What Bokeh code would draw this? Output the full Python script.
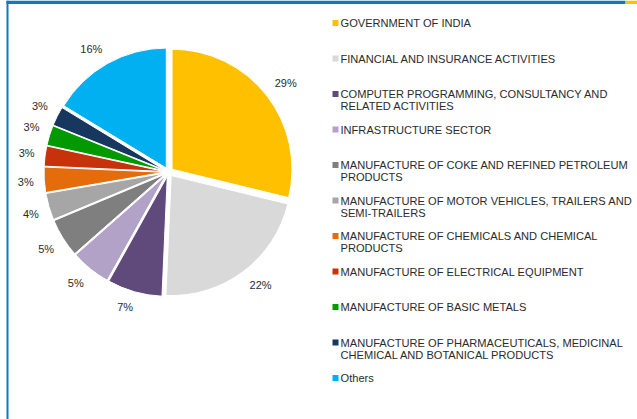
import math
from bokeh.plotting import figure
from bokeh.models import Range1d
from bokeh.core.properties import value
from bokeh.embed import file_html
from bokeh.resources import INLINE

# ---- data ----
categories = [
    "GOVERNMENT OF INDIA",
    "FINANCIAL AND INSURANCE ACTIVITIES",
    "COMPUTER PROGRAMMING, CONSULTANCY AND\nRELATED ACTIVITIES",
    "INFRASTRUCTURE SECTOR",
    "MANUFACTURE OF COKE AND REFINED PETROLEUM\nPRODUCTS",
    "MANUFACTURE OF MOTOR VEHICLES, TRAILERS AND\nSEMI-TRAILERS",
    "MANUFACTURE OF CHEMICALS AND CHEMICAL\nPRODUCTS",
    "MANUFACTURE OF ELECTRICAL EQUIPMENT",
    "MANUFACTURE OF BASIC METALS",
    "MANUFACTURE OF PHARMACEUTICALS, MEDICINAL\nCHEMICAL AND BOTANICAL PRODUCTS",
    "Others",
]
shares = [28.8, 21.9, 7.4, 5.4, 5.2, 3.6, 3.4, 2.7, 2.7, 2.6, 16.3]
colors = ["#FFC000", "#D9D9D9", "#604A7B", "#B3A2C7", "#7F7F7F", "#A6A6A6",
          "#E46C0A", "#C8320A", "#009A00", "#17375E", "#00B0F0"]

W, H = 637, 419
FONT = value("Liberation Sans")
FS_LEG = 11.1
FS_LAB = 11.0
TXT = "#2B2B2B"

p = figure(width=W, height=H, output_backend="svg", toolbar_location=None,
           x_range=Range1d(0, W), y_range=Range1d(0, H), min_border=0)
p.axis.visible = False
p.grid.visible = False
p.outline_line_color = None
p.background_fill_color = "white"
p.border_fill_color = "white"

def Y(py):
    return H - py

# ---- frame decorations ----
p.quad(left=[6], right=[625], top=[Y(0)], bottom=[Y(3.5)], fill_color="#0A7BC1", line_color=None)
p.quad(left=[625], right=[637], top=[Y(0)], bottom=[Y(3.5)], fill_color="#FFC000", line_color=None)
p.quad(left=[6], right=[8], top=[Y(0)], bottom=[Y(H)], fill_color="#0A7BC1", line_color=None)

# ---- pie ----
cx, cy = 168, 171.5
R = 120
LR = 135
explode = 4.5
total = float(sum(shares))
cum = 0.0
xs, ys, starts, ends, lx, ly, labels = [], [], [], [], [], [], []

def clip(v):
    return max(-1.0, min(1.0, v))

for s in shares:
    a0 = cum / total * 2 * math.pi
    a1 = (cum + s) / total * 2 * math.pi
    mid = (a0 + a1) / 2
    sn, cs = math.sin(mid), math.cos(mid)
    xs.append(cx + explode * sn)
    ys.append(Y(cy) + explode * cs)
    starts.append(math.pi / 2 - a0)
    ends.append(math.pi / 2 - a1)
    lab = f"{round(s / total * 100)}%"
    half_w = (0.556 * (len(lab) - 1) + 0.889) * FS_LAB / 2
    half_h = FS_LAB / 2
    lx.append(cx + LR * sn + half_w * clip(3 * sn))
    ly.append(Y(cy) + LR * cs + half_h * clip(3 * cs))
    labels.append(lab)
    cum += s

p.wedge(x=xs, y=ys, radius=R, start_angle=starts, end_angle=ends,
        direction="clock", fill_color=colors, line_color="white", line_width=1)
p.text(x=lx, y=ly, text=labels, text_font=FONT, text_font_size=f"{FS_LAB}px",
       text_color=TXT, text_align="center", text_baseline="middle")

# ---- legend ----
leg_x, leg_y0, leg_step, line_h = 332, 22.5, 35.5, 12
mx, my, tx, ty, tt = [], [], [], [], []
for i, cat in enumerate(categories):
    yc = leg_y0 + i * leg_step
    mx.append(leg_x + 3)
    my.append(Y(yc))
    for j, line in enumerate(cat.split("\n")):
        tx.append(leg_x + 8)
        ty.append(Y(yc + j * line_h))
        tt.append(line)
p.rect(x=mx, y=my, width=6, height=6, fill_color=colors, line_color=None)
p.text(x=tx, y=ty, text=tt, text_font=FONT, text_font_size=f"{FS_LEG}px",
       text_color=TXT, text_align="left", text_baseline="middle")

open("out.html", "w").write(file_html(p, INLINE))
